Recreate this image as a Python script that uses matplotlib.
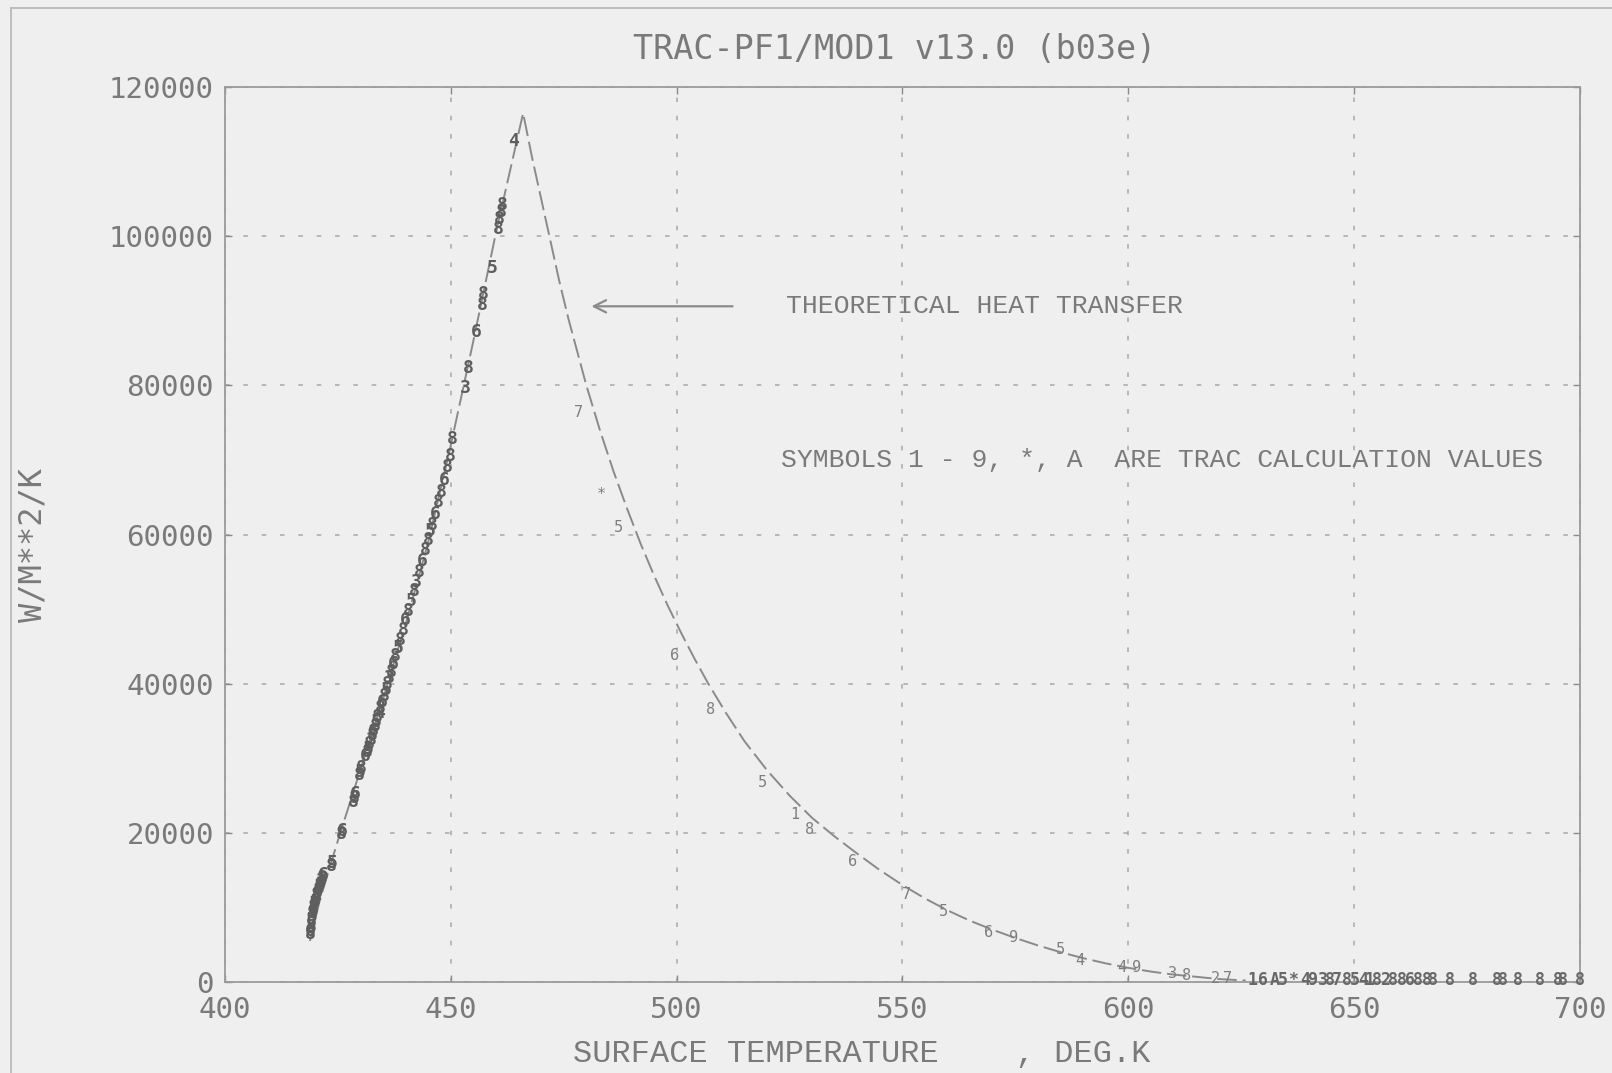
import matplotlib.pyplot as plt
from matplotlib.lines import Line2D

# theoretical heat transfer curve
theory_T = [418.8, 421.0, 425.0, 430.0, 435.0, 440.0, 445.0, 450.0, 455.0, 460.0, 466.0,
            468.0, 470.0, 472.0, 474.0, 476.0, 478.0, 480.0, 483.0, 486.0, 489.0, 492.0,
            495.0, 498.0, 501.0, 504.0, 507.0, 511.0, 515.0, 520.0, 525.0, 530.0, 535.0,
            540.0, 545.0, 550.0, 555.0, 560.0, 565.0, 570.0, 575.0, 580.0, 585.0, 590.0,
            595.0, 600.0, 605.0, 610.0, 615.0, 620.0, 626.0]
theory_h = [5500, 11000, 19000, 28500, 38000, 48000, 59000, 72000, 86000, 100500, 116500,
            110500, 105000, 99500, 94000, 89000, 84500, 80000, 74000, 68500, 63500, 58800,
            54500, 50500, 46800, 43300, 40000, 36000, 32300, 28400, 25000, 22000, 19500,
            17200, 15000, 13000, 11200, 9600, 8200, 7000, 5900, 4900, 4000, 3200,
            2500, 1900, 1400, 1000, 700, 400, 200]

# TRAC symbols on the nucleate boiling side (dense cluster)
rise_T = [418.8, 418.9, 419.0, 419.1, 419.2, 419.3, 419.4, 419.5, 419.6, 419.7, 419.9,
          420.1, 420.3, 420.5, 420.7, 420.9, 421.1, 421.3, 421.5, 421.8, 423.5, 423.7,
          425.7, 425.9, 428.5, 428.7, 428.9, 429.8, 430.0, 430.2, 431.1, 431.4, 431.7,
          432.0, 432.3, 432.6, 432.9, 433.2, 433.5, 433.8, 434.1, 434.4, 434.8, 435.2,
          435.6, 436.0, 436.4, 436.8, 437.3, 437.8, 438.3, 438.8, 439.4, 440.0, 440.6,
          441.2, 441.8, 442.4, 443.0, 443.6, 444.3, 444.9, 445.5, 445.9, 446.5, 447.2,
          447.8, 448.5, 449.2, 449.8, 450.3, 453.1, 453.8, 455.7, 456.9, 457.2, 459.1,
          460.5, 460.8, 461.1, 461.3, 463.8]
rise_h = [6400, 6900, 7400, 7900, 8400, 8800, 9200, 9600, 10000, 10400, 10800,
          11200, 11600, 12000, 12400, 12800, 13200, 13600, 13900, 14300, 15500, 15900,
          19800, 20300, 24200, 24700, 25200, 27700, 28200, 28700, 30300, 30800, 31300,
          31900, 32500, 33100, 33700, 34300, 34900, 35500, 36100, 36700, 37500, 38300,
          39100, 39900, 40700, 41500, 42600, 43700, 44800, 45900, 47200, 48500, 49800,
          51100, 52400, 53700, 55000, 56400, 57900, 59200, 60500, 61300, 62700, 64300,
          65700, 67300, 69000, 70500, 72800, 79700, 82300, 87200, 90800, 92200, 95800,
          101000, 102300, 103300, 104200, 112800]
rise_sym = ['8', '6', '8', '5', '8', '3', '8', '6', '8', '5', '8',
            '4', '8', '6', '8', '5', '8', '3', '8', '6', '8', '5',
            '8', '6', '8', '8', '6', '8', '5', '8', '6', '8', '5',
            '8', '3', '8', '6', '8', '5', '8', '4', '8', '6', '8',
            '5', '8', '3', '8', '6', '8', '5', '8', '8', '6', '8',
            '5', '8', '3', '8', '6', '8', '8', '5', '8', '6', '8',
            '8', '6', '8', '8', '8', '3', '8', '6', '8', '8', '5',
            '8', '8', '8', '8', '4']

# TRAC symbols on the transition / film boiling side
fall_T = [478.2, 483.4, 487.0, 499.6, 507.4, 518.9, 526.2, 529.5, 539.0, 551.0, 559.0,
          569.0, 574.5, 584.9, 589.3, 598.6, 601.9, 609.9, 613.0, 619.2, 622.0]
fall_h = [76300, 65300, 61000, 43800, 36500, 26800, 22400, 20400, 16100, 11700, 9400,
          6600, 6000, 4300, 2900, 2000, 1900, 1200, 900, 500, 450]
fall_sym = ['7', '*', '5', '6', '8', '5', '1', '8', '6', '7', '5',
            '6', '9', '5', '4', '4', '9', '3', '8', '2', '7']

# symbols lying on the zero line
base_T = [627.6, 629.8, 632.5, 634.3, 636.4, 639.1, 640.6, 643.0, 644.6, 646.2, 648.4,
          650.2, 652.0, 653.5, 655.0, 656.8, 658.6, 660.6, 662.3, 664.1, 666.1, 667.4,
          671.2, 676.3, 681.6, 682.9, 686.3, 691.1, 695.2, 696.2, 700.0]
base_h = [300] * len(base_T)
base_sym = ['1', '6', 'A', '5', '*', '4', '9', '3', '8', '7', '8',
            '5', '4', '1', '8', '2', '8', '8', '6', '8', '8', '8',
            '8', '8', '8', '8', '8', '8', '8', '8', '8']

xticks = [400, 450, 500, 550, 600, 650, 700]
yticks = [0, 20000, 40000, 60000, 80000, 100000, 120000]

bg = "#efefef"
ink = "#7a7a7a"
mono = "DejaVu Sans Mono"
serif_mono = "Liberation Mono"

fig = plt.figure(figsize=(16.12, 10.73), dpi=100)
fig.patch.set_facecolor(bg)
ax = fig.add_axes([0.1396, 0.0848, 0.8405, 0.8341])
ax.set_facecolor(bg)

# faint page frame from the scan
fig.add_artist(Line2D([0.007, 0.007], [0.0, 0.993], transform=fig.transFigure,
                      color="#b5b5b5", lw=1.2))
fig.add_artist(Line2D([0.007, 1.0], [0.993, 0.993], transform=fig.transFigure,
                      color="#b5b5b5", lw=1.2))

ax.plot(theory_T, theory_h, color="#8a8a8a", lw=1.4, linestyle=(0, (10, 3)))

for t, h, s in zip(rise_T, rise_h, rise_sym):
    ax.text(t, h, s, fontsize=13, family=mono, fontweight="bold", color="#5e5e5e",
            ha="center", va="center")
for t, h, s in zip(fall_T, fall_h, fall_sym):
    ax.text(t, h, s, fontsize=11, family=mono, color="#7e7e7e",
            ha="center", va="center")
for t, h, s in zip(base_T, base_h, base_sym):
    ax.text(t, h, s, fontsize=12, family=mono, fontweight="bold", color="#686868",
            ha="center", va="center")

ax.set_xlim(400, 700)
ax.set_ylim(0, 120000)
ax.set_xticks(xticks)
ax.set_yticks(yticks)
ax.set_xticklabels([str(v) for v in xticks])
ax.set_yticklabels([str(v) for v in yticks])
ax.tick_params(direction="in", length=5, width=1, color="#8a8a8a", labelcolor=ink,
               labelsize=21, top=True, right=True)
ax.tick_params(axis="x", pad=10)
ax.tick_params(axis="y", pad=8)
for lab in ax.get_xticklabels() + ax.get_yticklabels():
    lab.set_family(mono)

for sp in ax.spines.values():
    sp.set_color("#9a9a9a")
    sp.set_linewidth(1.3)

ax.grid(True, color="#a8a8a8", lw=1.1, linestyle=(0, (3, 9)))

ax.text(0.494, 1.042, "TRAC-PF1/MOD1 v13.0 (b03e)", transform=ax.transAxes,
        ha="center", va="center", fontsize=24, family=mono, color=ink)

ax.set_xlabel("SURFACE TEMPERATURE    , DEG.K", fontsize=23, family=serif_mono, color=ink)
ax.xaxis.label.set_va("center")
ax.xaxis.set_label_coords(0.470, -0.080)
ax.set_ylabel("W/M**2/K", fontsize=23, family=mono, color=ink)
ax.yaxis.label.set_va("center")
ax.yaxis.set_label_coords(-0.1417, 0.488)

ax.annotate("", xy=(480.5, 90600), xytext=(513.0, 90600),
            arrowprops=dict(arrowstyle="->", color="#8a8a8a", lw=1.6,
                            mutation_scale=22))
ax.text(524.2, 90600, "THEORETICAL HEAT TRANSFER", fontsize=19, family=serif_mono,
        color=ink, ha="left", va="center")
ax.text(523.0, 70000, "SYMBOLS 1 - 9, *, A  ARE TRAC CALCULATION VALUES", fontsize=19,
        family=serif_mono, color=ink, ha="left", va="center")

plt.savefig("out.png", dpi=100, facecolor=bg)
